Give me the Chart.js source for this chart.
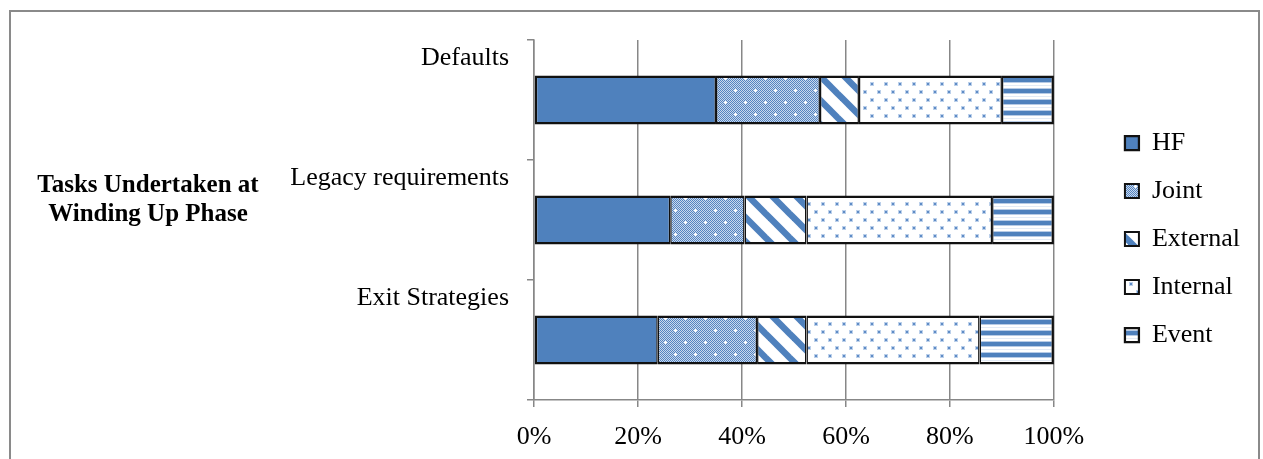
<!DOCTYPE html>
<html>
<head>
<meta charset="utf-8">
<script src="https://cdn.jsdelivr.net/npm/chart.js@4.4.1/dist/chart.umd.min.js"></script>
<style>
  html, body { margin: 0; padding: 0; background: #fff; }
  #wrap { position: absolute; left: 0; top: 0; width: 1263px; height: 459px; }
  #frame { position: absolute; left: 9px; top: 10px; width: 1251px; height: 480px;
           border: 2px solid #8a8a8a; box-sizing: border-box; pointer-events: none; }
</style>
</head>
<body>
<div id="wrap"><canvas id="chart"></canvas></div>
<div id="frame"></div>
<script>
// Categories (top to bottom) and series shares in percent
const categories = ['Defaults', 'Legacy requirements', 'Exit Strategies'];
const seriesNames = ['HF', 'Joint', 'External', 'Internal', 'Event'];
const hfValues       = [35.0, 26.2, 23.8];
const jointValues    = [20.0, 14.3, 19.1];
const externalValues = [7.5, 11.9, 9.5];
const internalValues = [27.5, 35.7, 33.3];
const eventValues    = [10.0, 11.9, 14.3];
const axisTitleLines = ['Tasks Undertaken at', 'Winding Up Phase'];

const BLUE = '#4F81BD';
const FONT = "'Liberation Serif', 'Times New Roman', serif";

// Fill patterns built on small tiles
function makePattern(w, h, draw) {
  const c = document.createElement('canvas');
  c.width = w; c.height = h;
  const g = c.getContext('2d');
  g.fillStyle = '#ffffff';
  g.fillRect(0, 0, w, h);
  draw(g, w, h);
  return g.createPattern(c, 'repeat');
}

// fine checker with white crosses
const jointFill = makePattern(20, 24, (g, w, h) => {
  for (let y = 0; y < h; y++) {
    for (let x = 0; x < w; x++) {
      g.fillStyle = ((x + y) % 2 === 0) ? '#5584c0' : '#c9d9ee';
      g.fillRect(x, y, 1, 1);
    }
  }
  g.fillStyle = '#ffffff';
  [[5, 6], [15, 18]].forEach(([cx, cy]) => {
    g.fillRect(cx - 1, cy, 3, 1);
    g.fillRect(cx, cy - 1, 1, 3);
  });
});

// wide diagonal stripes running down to the right
const externalFill = makePattern(24, 24, (g, w, h) => {
  g.strokeStyle = BLUE;
  g.lineWidth = 6.5;
  for (let x0 = -w; x0 <= w; x0 += w) {
    g.beginPath();
    g.moveTo(x0 - 3, -3);
    g.lineTo(x0 + w + 3, h + 3);
    g.stroke();
  }
});

// sparse staggered dots
const internalFill = makePattern(14, 16, (g) => {
  [[3, 3], [10, 11]].forEach(([x, y]) => {
    g.fillStyle = '#bcd0ea';
    g.fillRect(x - 1, y - 1, 4, 4);
    g.fillStyle = '#5f8cc6';
    g.fillRect(x, y, 2, 2);
  });
});

// horizontal bands
const eventFill = makePattern(8, 11, (g, w) => {
  g.fillStyle = '#b7cbe6';
  g.fillRect(0, 0, w, 1);
  g.fillRect(0, 5, w, 1);
  g.fillStyle = BLUE;
  g.fillRect(0, 1, w, 4);
  g.fillStyle = '#e3ebf6';
  g.fillRect(0, 8, w, 1);
});

const seriesValues = [hfValues, jointValues, externalValues, internalValues, eventValues];
const seriesFills = [BLUE, jointFill, externalFill, internalFill, eventFill];
const last = seriesNames.length - 1;

const datasets = seriesNames.map((name, i) => ({
  label: name,
  data: seriesValues[i],
  backgroundColor: seriesFills[i],
  borderColor: '#111111',
  borderWidth: { top: 2.5, bottom: 2.5, left: i === 0 ? 2.5 : 1.5, right: i === last ? 2.5 : 1.5 },
  borderSkipped: false,
  xAxisID: 'x',
  yAxisID: 'y',
  barPercentage: 0.41,
  categoryPercentage: 1.0
}));

// Bold two-line heading to the left of the category labels
const axisHeading = {
  id: 'axisHeading',
  afterDraw(chart) {
    const ctx = chart.ctx;
    const area = chart.chartArea;
    const cx = chart.scales.y.left + 138;
    const cy = (area.top + area.bottom) / 2 - 20;
    const lineH = 29;
    ctx.save();
    ctx.font = "bold 25px " + FONT;
    ctx.fillStyle = '#000';
    ctx.textAlign = 'center';
    ctx.textBaseline = 'middle';
    axisTitleLines.forEach((t, i) => {
      ctx.fillText(t, cx, cy + (i - (axisTitleLines.length - 1) / 2) * lineH);
    });
    ctx.restore();
  }
};

const GRID = '#878787';

new Chart(document.getElementById('chart'), {
  type: 'bar',
  data: { labels: categories, datasets },
  plugins: [axisHeading],
  options: {
    indexAxis: 'y',
    responsive: true,
    maintainAspectRatio: false,
    animation: false,
    events: [],
    layout: { padding: { left: 10, right: 13, top: 26, bottom: 7 } },
    scales: {
      x: {
        stacked: true,
        min: 0,
        max: 100,
        position: 'bottom',
        ticks: {
          stepSize: 20,
          padding: 15,
          color: '#000',
          font: { family: FONT, size: 26 },
          maxRotation: 0,
          callback: (v) => v + '%'
        },
        grid: { color: GRID, lineWidth: 1.5, tickLength: 7, drawTicks: true },
        border: { display: true, color: GRID, width: 1.5 },
        afterFit(scale) { scale.height = 52; }
      },
      x2: {
        type: 'linear',
        axis: 'x',
        position: 'top',
        display: true,
        grid: { display: false },
        border: { display: false },
        ticks: { display: false },
        afterFit(scale) { scale.height = 14; }
      },
      y: {
        stacked: true,
        position: 'left',
        ticks: {
          padding: 18,
          labelOffset: -42,
          color: '#000',
          font: { family: FONT, size: 26 }
        },
        grid: { color: GRID, lineWidth: 1.5, tickLength: 7, drawOnChartArea: false, offset: true },
        border: { display: true, color: GRID, width: 1.5 },
        afterFit(scale) { scale.width = 524; }
      },
      y2: {
        type: 'category',
        axis: 'y',
        position: 'right',
        display: true,
        grid: { display: false },
        border: { display: false },
        ticks: { display: false },
        afterFit(scale) { scale.width = 49; }
      }
    },
    plugins: {
      legend: {
        display: true,
        position: 'right',
        align: 'center',
        labels: {
          boxWidth: 14,
          boxHeight: 14,
          padding: 22,
          color: '#000',
          font: { family: FONT, size: 26 }
        }
      },
      tooltip: { enabled: false },
      title: { display: false }
    }
  }
});
</script>
</body>
</html>
